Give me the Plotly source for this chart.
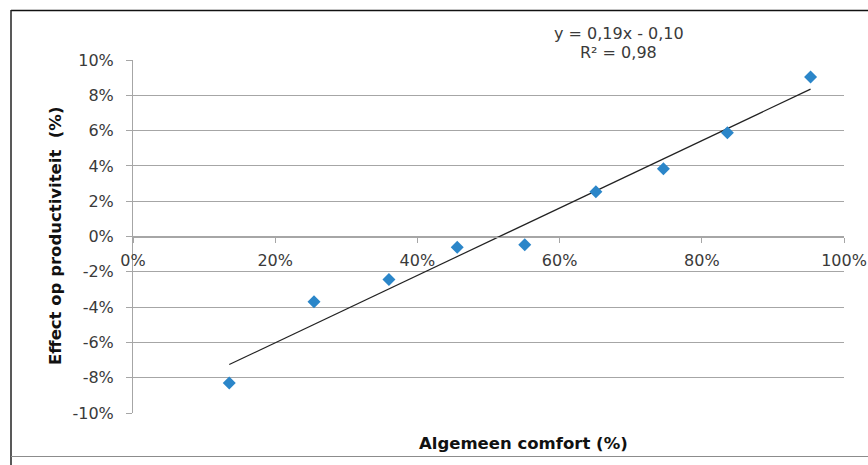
import numpy as np
import plotly.graph_objects as go

# Data (fractions)
comfort = [0.1354, 0.2546, 0.360, 0.456, 0.551, 0.651, 0.746, 0.836, 0.953]
effect = [-0.0830, -0.0369, -0.0244, -0.0061, -0.0047, 0.0254, 0.0384, 0.0588, 0.0904]

x_ticks = [0, 0.2, 0.4, 0.6, 0.8, 1.0]
x_ticktext = ["0%", "20%", "40%", "60%", "80%", "100%"]
y_ticks = [-0.10, -0.08, -0.06, -0.04, -0.02, 0, 0.02, 0.04, 0.06, 0.08, 0.10]
y_ticktext = ["-10%", "-8%", "-6%", "-4%", "-2%", "0%", "2%", "4%", "6%", "8%", "10%"]

eq_text = "y = 0,19x - 0,10"
r2_text = "R² = 0,98"
x_title = "Algemeen comfort (%)"
y_title = "Effect op productiviteit  (%)"

slope, intercept = np.polyfit(comfort, effect, 1)
fit_x = [min(comfort), max(comfort)]
fit_y = [slope * v + intercept for v in fit_x]

FONT = "DejaVu Sans"
GRID = "#a6a6a6"
TXT = "#3a3a3a"

fig = go.Figure()
fig.add_trace(go.Scatter(x=fit_x, y=fit_y, mode="lines",
                         line=dict(color="#222222", width=1.2), showlegend=False,
                         hoverinfo="skip"))
fig.add_trace(go.Scatter(x=comfort, y=effect, mode="markers",
                         marker=dict(symbol="diamond", size=10, color="#2b86c9",
                                     line=dict(width=0)), showlegend=False))

W, H = 868, 465
L, T = 133, 60
R = W - 844
B = H - 413
pw, ph = W - L - R, H - T - B

def px2x(px):
    return (px - L) / pw

def py2y(py):
    return (H - B - py) / ph

fig.update_layout(
    width=W, height=H,
    margin=dict(l=L, r=R, t=T, b=B, autoexpand=False),
    paper_bgcolor="white", plot_bgcolor="white",
    font=dict(family=FONT, size=16, color=TXT),
    xaxis=dict(range=[0, 1], tickvals=x_ticks, ticktext=x_ticktext,
               anchor="free", position=0.5, showgrid=False, zeroline=False,
               showline=True, linecolor=GRID, linewidth=1,
               ticks="outside", ticklen=5, tickcolor=GRID,
               ticklabelstandoff=4, ticklabeloverflow="allow", automargin=False,
               tickfont=dict(family=FONT, size=16, color=TXT)),
    yaxis=dict(range=[-0.1, 0.1], tickvals=y_ticks, ticktext=y_ticktext,
               showgrid=True, gridcolor=GRID, gridwidth=1, zeroline=False,
               showline=True, linecolor=GRID, linewidth=1,
               ticks="outside", ticklen=6, tickcolor=GRID,
               ticklabelstandoff=9, automargin=False,
               tickfont=dict(family=FONT, size=16, color=TXT)),
    shapes=[
        dict(type="line", xref="paper", yref="paper", x0=px2x(11), x1=px2x(868),
             y0=py2y(10.5), y1=py2y(10.5), line=dict(color="#111111", width=1.5)),
        dict(type="line", xref="paper", yref="paper", x0=px2x(11), x1=px2x(11),
             y0=py2y(10), y1=py2y(466), line=dict(color="#222222", width=1.5)),
        dict(type="line", xref="paper", yref="paper", x0=px2x(11), x1=px2x(868),
             y0=py2y(456.5), y1=py2y(456.5), line=dict(color="#8c8c8c", width=1.2)),
    ],
    annotations=[
        dict(text=eq_text, xref="paper", yref="paper", x=px2x(618.5), y=py2y(33),
             showarrow=False, xanchor="center", yanchor="middle",
             font=dict(family=FONT, size=16, color=TXT)),
        dict(text=r2_text, xref="paper", yref="paper", x=px2x(618.5), y=py2y(53),
             showarrow=False, xanchor="center", yanchor="middle",
             font=dict(family=FONT, size=16, color=TXT)),
        dict(text="<b>" + x_title + "</b>", xref="paper", yref="paper",
             x=px2x(523.5), y=py2y(443), showarrow=False,
             xanchor="center", yanchor="middle",
             font=dict(family=FONT, size=16.5, color="#111111")),
        dict(text="<b>" + y_title + "</b>", xref="paper", yref="paper",
             x=px2x(55), y=py2y(236), showarrow=False, textangle=-90,
             xanchor="center", yanchor="middle",
             font=dict(family=FONT, size=16.5, color="#111111")),
    ],
)

fig.write_html(
    "out.html",
    config={"displayModeBar": False},
    post_script="document.body.style.margin='0';document.body.style.overflow='hidden';",
)
